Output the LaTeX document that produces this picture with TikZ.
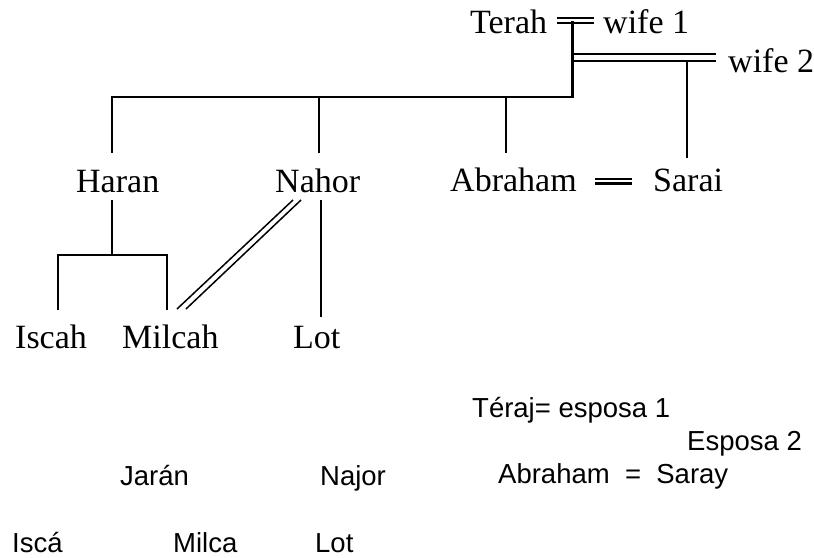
\documentclass[tikz,border=0pt]{standalone}
\usepackage{fontspec}
\setmainfont{Liberation Serif}
\newfontfamily\labsans{Liberation Sans}
\begin{document}
\begin{tikzpicture}[x=1pt,y=-1pt,
  serifname/.style={anchor=base west,inner sep=0pt,font=\fontsize{34}{40}\selectfont},
  sansname/.style={anchor=base west,inner sep=0pt,font=\labsans\fontsize{27.5}{32}\selectfont},
  thickline/.style={line width=2.8pt,line join=miter,line cap=rect},
  kinline/.style={line width=1.9pt},
  marline/.style={line width=1.9pt},
  thinmar/.style={line width=1.5pt}]
\useasboundingbox (0,0) rectangle (814,557);
% serif names
\node[serifname] (terah) at (470,33) {Terah};
\node[serifname] (wifeA) at (603,33) {wife 1};
\node[serifname] (wifeB) at (728,72) {wife 2};
\node[serifname] (haran) at (76,192) {Haran};
\node[serifname] (nahor) at (275,192) {Nahor};
\node[serifname] (abraham) at (450,191) {Abraham};
\node[serifname] (sarai) at (653,191) {Sarai};
\node[serifname] (iscah) at (15,348) {Iscah};
\node[serifname] (milcah) at (122,348) {Milcah};
\node[serifname] (lot) at (293,348) {Lot};
% coordinates
\coordinate (tA) at (557,18.3); \coordinate (tB) at (594,18.3);
\coordinate (tC) at (557,22.7); \coordinate (tD) at (594,22.7);
\coordinate (stemTop) at (572.7,22.7);
\coordinate (corner) at (572.7,97);
\coordinate (barL) at (112.3,97);
\coordinate (barN) at (319.3,97);
\coordinate (barA) at (505.7,97);
\coordinate (hDown) at (112.3,152.7);
\coordinate (nDown) at (319.3,152.7);
\coordinate (aDown) at (505.7,152.7);
\coordinate (wA) at (573,54); \coordinate (wB) at (716,54);
\coordinate (wC) at (573,60.7); \coordinate (wD) at (716,60.7);
\coordinate (sTop) at (686.7,60.7); \coordinate (sDown) at (686.7,158);
\coordinate (mA) at (595,179); \coordinate (mB) at (632,179);
\coordinate (mC) at (595,183.5); \coordinate (mD) at (632,183.5);
\coordinate (hTop) at (112.3,200); \coordinate (hMid) at (112.3,255);
\coordinate (iTop) at (58,255); \coordinate (iDown) at (58,310);
\coordinate (mlTop) at (167,255); \coordinate (mlDown) at (167,310);
\coordinate (dA) at (177,309); \coordinate (dB) at (293,200);
\coordinate (dC) at (186,309); \coordinate (dD) at (301,200);
\coordinate (lTop) at (321,200); \coordinate (lDown) at (321,317);
% Terah marriages
\draw[marline] (tA) -- (tB);
\draw[marline] (tC) -- (tD);
\draw[marline] (wA) -- (wB);
\draw[marline] (wC) -- (wD);
% descent
\draw[thickline] (stemTop) -- (corner) -- (barL);
\draw[kinline] (barL) -- (hDown);
\draw[kinline] (barN) -- (nDown);
\draw[kinline] (barA) -- (aDown);
\draw[kinline] (sTop) -- (sDown);
\draw[line width=2.3pt] (mA) -- (mB);
\draw[line width=2.3pt] (mC) -- (mD);
\draw[kinline] (hTop) -- (hMid);
\draw[kinline,line join=miter] (iDown) -- (iTop) -- (mlTop) -- (mlDown);
\draw[thinmar] (dA) -- (dB);
\draw[thinmar] (dC) -- (dD);
\draw[kinline] (lTop) -- (lDown);
% sans labels
\node[sansname] (teraj) at (472,417) {Téraj= esposa 1};
\node[sansname] (esposa) at (687,450) {Esposa 2};
\node[sansname] (jaran) at (120,485) {Jarán};
\node[sansname] (najor) at (320,485) {Najor};
\node[sansname] (abrsar) at (498,483) {Abraham\ \ =\ \ Saray};
\node[sansname] (isca) at (12,552) {Iscá};
\node[sansname] (milca) at (173,552) {Milca};
\node[sansname] (lotes) at (315,552) {Lot};
\end{tikzpicture}
\end{document}
